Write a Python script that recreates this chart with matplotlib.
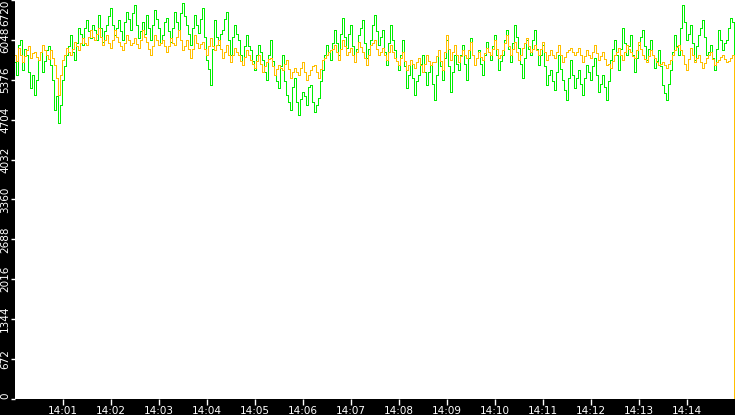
import numpy as np
import matplotlib
matplotlib.use("Agg")
import matplotlib.pyplot as plt

# Pas d'échantillonnage (secondes) à partir de 14:00:00
step_seconds = 2.5

# Série verte (un point toutes les 2,5 s)
green_values = [
    5676, 5450, 5962, 6050, 5541, 5900, 5794, 5500, 5238, 5450, 5120, 5380, 5710, 5850, 5507, 5700, 5878, 5950, 5625, 5380,
    4868, 5100, 4649, 4950, 5373, 5600, 5794, 5950, 6131, 5850, 5710, 6000, 6248, 6150, 5962, 6250, 6383, 6200, 6080, 6300,
    6215, 6050, 6467, 6250, 6013, 6200, 6299, 6450, 6585, 6300, 6131, 6250, 6383, 6200, 6046, 6350, 6518, 6400, 6215, 6500,
    6636, 6300, 6080, 6200, 6350, 6150, 6467, 6250, 6046, 6300, 6552, 6400, 6248, 6000, 6131, 6350, 6417, 6200, 6013, 6250,
    6518, 6350, 6215, 6500, 6669, 6450, 6299, 6150, 5962, 6250, 6467, 6300, 6164, 6400, 6585, 6100, 5710, 5550, 5289, 5900,
    6383, 6100, 5962, 6150, 6215, 6400, 6518, 6050, 5794, 6100, 6299, 6150, 6046, 5800, 5625, 5950, 6131, 5950, 5878, 5700,
    5541, 5800, 5962, 5850, 5710, 5500, 5373, 5800, 6046, 5700, 5457, 5350, 5238, 5600, 5794, 5350, 5120, 5000, 4868, 5250,
    5406, 5000, 4783, 5050, 5171, 5100, 4952, 5250, 5289, 5000, 4834, 4950, 5070, 5350, 5541, 5800, 5962, 5850, 5710, 6000,
    6215, 6000, 5794, 6150, 6417, 6100, 5912, 6150, 6299, 5950, 5676, 5900, 6131, 6250, 6383, 6000, 5743, 5900, 6046, 6300,
    6467, 6200, 5962, 6100, 6215, 5850, 5625, 6000, 6299, 6050, 5878, 5700, 5541, 5800, 6046, 5600, 5238, 5450, 5710, 5400,
    5120, 5350, 5457, 5650, 5794, 5500, 5289, 5500, 5625, 5300, 5036, 5450, 5878, 5600, 5373, 5750, 6046, 5600, 5171, 5500,
    5794, 5650, 5541, 5800, 5962, 5650, 5373, 5750, 6080, 5800, 5625, 5750, 5878, 5650, 5457, 5800, 6013, 5850, 5710, 5950,
    6131, 5800, 5541, 5700, 5794, 6050, 6215, 5900, 5676, 6000, 6299, 6100, 5912, 5650, 5406, 5750, 6046, 5900, 5794, 6050,
    6215, 5900, 5625, 5800, 5962, 5600, 5289, 5450, 5541, 5350, 5204, 5500, 5794, 5550, 5373, 5200, 5036, 5400, 5710, 5450,
    5238, 5400, 5541, 5300, 5120, 5400, 5625, 5500, 5373, 5600, 5743, 5450, 5171, 5300, 5457, 5250, 5036, 5350, 5710, 5900,
    6046, 5800, 5541, 5900, 6248, 6000, 5794, 5950, 6131, 5800, 5507, 5750, 5962, 6100, 6215, 5950, 5710, 5900, 6046, 5800,
    5575, 5700, 5878, 5600, 5289, 5150, 5036, 5300, 5541, 5850, 6131, 5950, 5794, 6250, 6636, 6350, 6046, 6150, 6299, 6000,
    5710, 5950, 6131, 6250, 6383, 6100, 5794, 5850, 5962, 5750, 5541, 5900, 6215, 6050, 5878, 6000, 6046, 6250, 6417, 6350,
    2900,
]

# Série orange
orange_values = [
    5794, 5700, 5912, 5800, 5676, 5780, 5878, 5950, 5743, 5820, 5844, 5760, 5710, 5850, 5962, 5880, 5794, 5720, 5878, 5750,
    5625, 5400, 5120, 5450, 5710, 5800, 5912, 5850, 5794, 5900, 6013, 5950, 5878, 6000, 6080, 6000, 5962, 6100, 6215, 6100,
    6046, 6150, 6248, 6100, 5962, 6050, 6131, 6000, 5912, 6050, 6215, 6100, 6013, 5950, 5878, 6000, 6131, 6050, 5962, 6000,
    6080, 5980, 5912, 6050, 6215, 6100, 6013, 5900, 5794, 5950, 6131, 6050, 5962, 6000, 6046, 5950, 5844, 5950, 6080, 6000,
    5962, 6100, 6215, 6050, 5878, 5950, 6046, 5900, 5743, 5900, 6131, 6000, 5912, 5980, 6013, 5900, 5794, 5950, 6080, 5950,
    5878, 5960, 6046, 5900, 5743, 5850, 5962, 5800, 5676, 5800, 5912, 5850, 5794, 5700, 5625, 5760, 5878, 5800, 5710, 5650,
    5575, 5700, 5794, 5650, 5507, 5600, 5676, 5720, 5743, 5600, 5457, 5550, 5625, 5580, 5541, 5650, 5710, 5550, 5406, 5500,
    5575, 5500, 5457, 5580, 5676, 5500, 5373, 5450, 5541, 5600, 5625, 5500, 5406, 5550, 5710, 5750, 5794, 5850, 5878, 5900,
    5962, 5850, 5710, 5900, 6046, 5950, 5794, 5850, 5912, 5800, 5676, 5850, 6013, 5920, 5844, 5750, 5625, 5800, 5962, 6000,
    6046, 5900, 5794, 5850, 5912, 5800, 5710, 5850, 5962, 5850, 5743, 5700, 5625, 5750, 5844, 5700, 5541, 5620, 5710, 5650,
    5575, 5680, 5743, 5620, 5507, 5650, 5794, 5700, 5625, 5680, 5676, 5780, 5878, 5700, 5541, 5850, 6131, 5900, 5710, 5850,
    5962, 5800, 5676, 5780, 5878, 5800, 5743, 5880, 6013, 5800, 5625, 5750, 5844, 5760, 5710, 5820, 5912, 5850, 5794, 5900,
    6046, 5900, 5743, 5800, 5878, 6000, 6131, 5950, 5794, 5900, 6013, 5850, 5710, 5800, 5912, 6000, 6080, 5950, 5844, 5900,
    5962, 5880, 5794, 5900, 6013, 5850, 5710, 5800, 5878, 5800, 5743, 5850, 5962, 5800, 5676, 5760, 5844, 5880, 5912, 5850,
    5794, 5850, 5912, 5800, 5676, 5780, 5878, 5800, 5743, 5850, 5962, 5830, 5710, 5780, 5844, 5720, 5625, 5650, 5575, 5700,
    5794, 5850, 5912, 5800, 5710, 5850, 5962, 5900, 5844, 5780, 5743, 5880, 6013, 5900, 5794, 5720, 5676, 5780, 5878, 5800,
    5743, 5680, 5625, 5650, 5676, 5620, 5575, 5650, 5710, 5800, 5878, 5920, 5962, 5880, 5794, 5650, 5541, 5720, 5912, 5800,
    5676, 5740, 5794, 5680, 5575, 5660, 5743, 5800, 5844, 5720, 5625, 5680, 5710, 5760, 5794, 5720, 5676, 5700, 5743, 5800,
    0,
]

# Graduations
y_ticks = [0, 672, 1344, 2016, 2688, 3360, 4032, 4704, 5376, 6048, 6720]
x_tick_labels = ["14:01", "14:02", "14:03", "14:04", "14:05", "14:06", "14:07",
                 "14:08", "14:09", "14:10", "14:11", "14:12", "14:13", "14:14"]


def main() -> None:
    """Fonction principale pour tracer le graphique"""
    seconds = np.arange(len(green_values)) * step_seconds

    fig = plt.figure(figsize=(7.35, 4.15), dpi=100, facecolor="black")
    ax = fig.add_axes([15 / 735, 16 / 415, 720 / 735, 399 / 415])
    ax.set_facecolor("white")

    # Courbes en escalier (1 pixel, sans anticrénelage)
    ax.plot(seconds, green_values, color="#00ee00", linewidth=0.72,
            antialiased=False, drawstyle="steps-mid")
    ax.plot(seconds, orange_values, color="#ffbf00", linewidth=0.72,
            antialiased=False, drawstyle="steps-mid")

    ax.set_xlim(0, 900)
    ax.set_ylim(0, 6720)

    for spine in ax.spines.values():
        spine.set_visible(False)

    # Axe des x : une graduation par minute
    ax.set_xticks([60 * (i + 1) for i in range(len(x_tick_labels))])
    ax.set_xticklabels(x_tick_labels)
    ax.tick_params(axis="x", colors="white", length=4, width=1, pad=1, labelsize=7.5)

    # Axe des y : étiquettes verticales
    ax.set_yticks(y_ticks)
    ax.set_yticklabels([str(v) for v in y_ticks], rotation=90, va="center")
    ax.tick_params(axis="y", colors="white", length=3, width=1, pad=0.5, labelsize=7.5)
    labels = ax.get_yticklabels()
    labels[-1].set_va("top")
    labels[0].set_va("bottom")

    fig.savefig("out.png", dpi=100, facecolor="black")


if __name__ == "__main__":
    main()
